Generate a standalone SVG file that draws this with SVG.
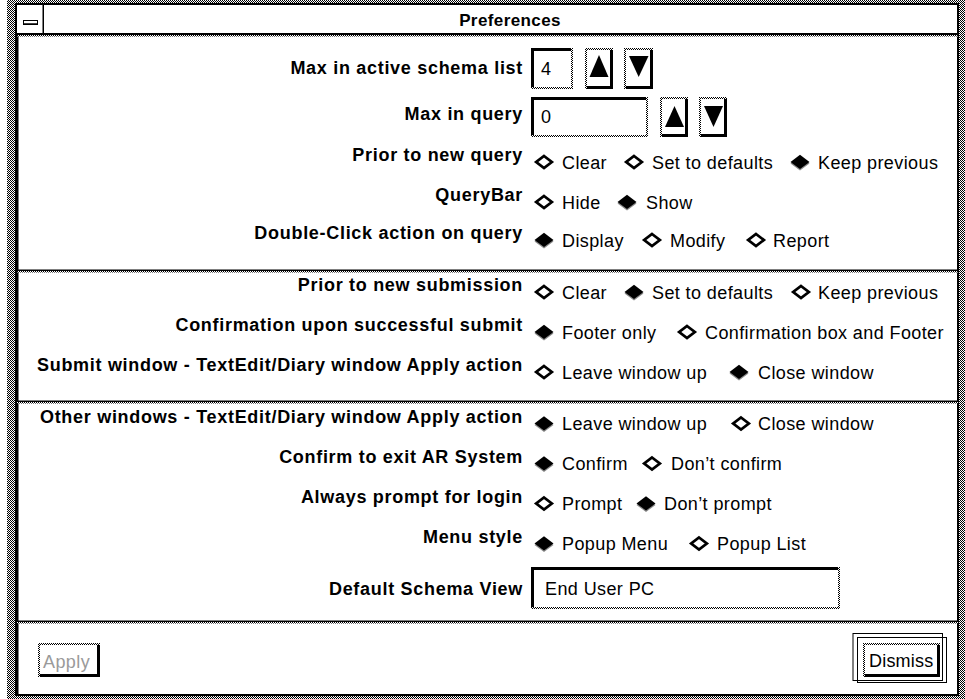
<svg xmlns="http://www.w3.org/2000/svg" width="965" height="699" viewBox="0 0 965 699">
<defs>
<pattern id="st" width="2" height="2" patternUnits="userSpaceOnUse"><rect width="2" height="2" fill="#fff"/><rect width="1" height="1" fill="#000"/><rect x="1" y="1" width="1" height="1" fill="#000"/></pattern>
<g id="dOff"><polygon points="0,-6 7.8,0 0,6 -7.8,0" fill="#fff" stroke="#000" stroke-width="2.8"/></g>
<g id="dOn"><polygon points="0,-5.5 9.5,1.5 0,8.5 -9.5,1.5" fill="#8a8a8a"/><polygon points="0,-7.3 9.5,0 0,7 -9.5,0" fill="#000"/></g>
</defs>
<style>
.lab{font-family:"Liberation Sans",Arial,Helvetica,sans-serif;font-weight:bold;font-size:18px;letter-spacing:0.7px;text-anchor:end;fill:#000}
.opt{font-family:"Liberation Sans",Arial,Helvetica,sans-serif;font-size:18px;letter-spacing:0.4px;fill:#000}
.ttl{font-family:"Liberation Sans",Arial,Helvetica,sans-serif;font-weight:bold;font-size:17px;letter-spacing:0.4px;text-anchor:middle;fill:#000}
.stp{fill:url(#st)}
.blk{fill:#000}
.wht{fill:#fff}
.edge{fill:none;stroke:#000;stroke-width:3}
.tri{fill:#000}
</style>

<g id="window-frame">
<rect x="7" y="0" width="958" height="699" class="stp"/>
<rect x="16" y="4" width="942" height="691" fill="#fff" stroke="#000" stroke-width="2"/>
<rect x="17" y="35" width="1.5" height="659" class="blk"/>
<rect x="17" y="33" width="941" height="2" class="blk"/>
<rect x="17" y="35" width="941" height="1.5" class="stp"/>
<rect x="42.5" y="4" width="1.5" height="29" class="blk"/>
<rect x="23.5" y="20.5" width="14" height="3.5" fill="#fff" stroke="#000" stroke-width="1"/>
<rect x="23" y="23.5" width="15" height="1.5" class="blk"/>
<text x="510" y="26" class="ttl">Preferences</text>
</g>

<g id="separators">
<rect x="17" y="269.5" width="941" height="1.5" class="blk"/>
<rect x="17" y="271" width="941" height="1.5" class="stp"/>
<rect x="17" y="400.5" width="941" height="1.5" class="blk"/>
<rect x="17" y="402" width="941" height="1.5" class="stp"/>
<rect x="17" y="620.5" width="941" height="1.5" class="blk"/>
<rect x="17" y="622" width="941" height="1.5" class="stp"/>
</g>

<g id="connectors"></g>

<g id="row-max-active">
<text x="523" y="74" class="lab">Max in active schema list</text>
<rect x="531" y="48" width="42" height="41" class="stp"/>
<rect x="533" y="50" width="38" height="37" class="wht"/>
<path d="M532.5 87 V49.5 H571" class="edge"/>
<text x="541" y="75" class="opt" font-size="17">4</text>
<rect x="585" y="48" width="28" height="41" class="stp"/>
<rect x="587" y="50" width="23" height="36" class="wht"/>
<path d="M611.5 50 V87.5 H587" class="edge"/>
<polygon points="599,55 608.5,77 589.5,77" class="tri"/>
<rect x="624" y="48" width="29" height="41" class="stp"/>
<rect x="626" y="50" width="24" height="36" class="wht"/>
<path d="M651.5 50 V87.5 H626" class="edge"/>
<polygon points="629,56 648.5,56 638.7,77" class="tri"/>
</g>

<g id="row-max-query">
<text x="523" y="120" class="lab">Max in query</text>
<rect x="531" y="97" width="117" height="40" class="stp"/>
<rect x="533" y="99" width="113" height="36" class="wht"/>
<path d="M532.5 135 V98.5 H646" class="edge"/>
<text x="541" y="123" class="opt" font-size="17">0</text>
<rect x="660" y="97" width="28" height="40" class="stp"/>
<rect x="662" y="99" width="23" height="35" class="wht"/>
<path d="M686.5 99 V135.5 H662" class="edge"/>
<polygon points="674.5,106 684,127 665,127" class="tri"/>
<rect x="699" y="97" width="28" height="40" class="stp"/>
<rect x="701" y="99" width="23" height="35" class="wht"/>
<path d="M725.5 99 V135.5 H701" class="edge"/>
<polygon points="704,106 723,106 713.5,127" class="tri"/>
</g>

<g id="row-prior-query">
<text x="523" y="161" class="lab">Prior to new query</text>
<use href="#dOff" x="544" y="162"/><text x="562" y="168.5" class="opt">Clear</text>
<use href="#dOff" x="634" y="162"/><text x="652" y="168.5" class="opt">Set to defaults</text>
<use href="#dOn" x="800" y="162"/><text x="818" y="168.5" class="opt">Keep previous</text>
</g>

<g id="row-querybar">
<text x="523" y="201" class="lab">QueryBar</text>
<use href="#dOff" x="544" y="202"/><text x="562" y="208.5" class="opt">Hide</text>
<use href="#dOn" x="627" y="202"/><text x="646" y="208.5" class="opt">Show</text>
</g>

<g id="row-double-click">
<text x="523" y="239" class="lab">Double-Click action on query</text>
<use href="#dOn" x="544" y="240"/><text x="562" y="246.5" class="opt">Display</text>
<use href="#dOff" x="652" y="240"/><text x="670" y="246.5" class="opt">Modify</text>
<use href="#dOff" x="756" y="240"/><text x="773" y="246.5" class="opt">Report</text>
</g>

<g id="row-prior-submission">
<text x="523" y="291" class="lab">Prior to new submission</text>
<use href="#dOff" x="544" y="292"/><text x="562" y="298.5" class="opt">Clear</text>
<use href="#dOn" x="634" y="292"/><text x="652" y="298.5" class="opt">Set to defaults</text>
<use href="#dOff" x="801" y="292"/><text x="818" y="298.5" class="opt">Keep previous</text>
</g>

<g id="row-confirmation">
<text x="523" y="331" class="lab">Confirmation upon successful submit</text>
<use href="#dOn" x="544" y="332"/><text x="562" y="338.5" class="opt">Footer only</text>
<use href="#dOff" x="687" y="332"/><text x="705" y="338.5" class="opt">Confirmation box and Footer</text>
</g>

<g id="row-submit-window">
<text x="523" y="371" class="lab">Submit window - TextEdit/Diary window Apply action</text>
<use href="#dOff" x="544" y="372"/><text x="562" y="378.5" class="opt">Leave window up</text>
<use href="#dOn" x="739" y="372"/><text x="758" y="378.5" class="opt">Close window</text>
</g>

<g id="row-other-windows">
<text x="523" y="422.5" class="lab">Other windows - TextEdit/Diary window Apply action</text>
<use href="#dOn" x="544" y="423.5"/><text x="562" y="430" class="opt">Leave window up</text>
<use href="#dOff" x="741" y="423.5"/><text x="758" y="430" class="opt">Close window</text>
</g>

<g id="row-confirm-exit">
<text x="523" y="462.5" class="lab">Confirm to exit AR System</text>
<use href="#dOn" x="544" y="463.5"/><text x="562" y="470" class="opt">Confirm</text>
<use href="#dOff" x="652" y="463.5"/><text x="671" y="470" class="opt">Don’t confirm</text>
</g>

<g id="row-prompt-login">
<text x="523" y="502.5" class="lab">Always prompt for login</text>
<use href="#dOff" x="544" y="503.5"/><text x="562" y="510" class="opt">Prompt</text>
<use href="#dOn" x="646" y="503.5"/><text x="664" y="510" class="opt">Don’t prompt</text>
</g>

<g id="row-menu-style">
<text x="523" y="542.5" class="lab">Menu style</text>
<use href="#dOn" x="544" y="543.5"/><text x="562" y="550" class="opt">Popup Menu</text>
<use href="#dOff" x="699" y="543.5"/><text x="717" y="550" class="opt">Popup List</text>
</g>

<g id="row-default-view">
<text x="523" y="595" class="lab">Default Schema View</text>
<rect x="531" y="567" width="309" height="42" class="stp"/>
<rect x="533" y="569" width="305" height="38" class="wht"/>
<path d="M532.5 607 V568.5 H838" class="edge"/>
<text x="545" y="595" class="opt">End User PC</text>
</g>

<g id="btn-apply">
<rect x="38" y="643" width="62" height="34" class="stp"/>
<rect x="40" y="645" width="57" height="29" class="wht"/>
<path d="M98.5 645 V675.5 H40" class="edge"/>
<text x="43" y="668" class="opt" style="fill:#9a9a9a">Apply</text>
</g>

<g id="btn-dismiss">
<rect x="853" y="633.5" width="89.5" height="47" fill="none" stroke="#000" stroke-width="1"/>
<rect x="857.5" y="637.5" width="89" height="45" fill="none" stroke="#000" stroke-width="1"/>
<rect x="863" y="643" width="77" height="34" class="stp"/>
<rect x="865" y="645" width="72" height="29" class="wht"/>
<path d="M938.5 645 V675.5 H865" class="edge"/>
<text x="869" y="667" class="opt" style="letter-spacing:0.2px">Dismiss</text>
</g>
</svg>
